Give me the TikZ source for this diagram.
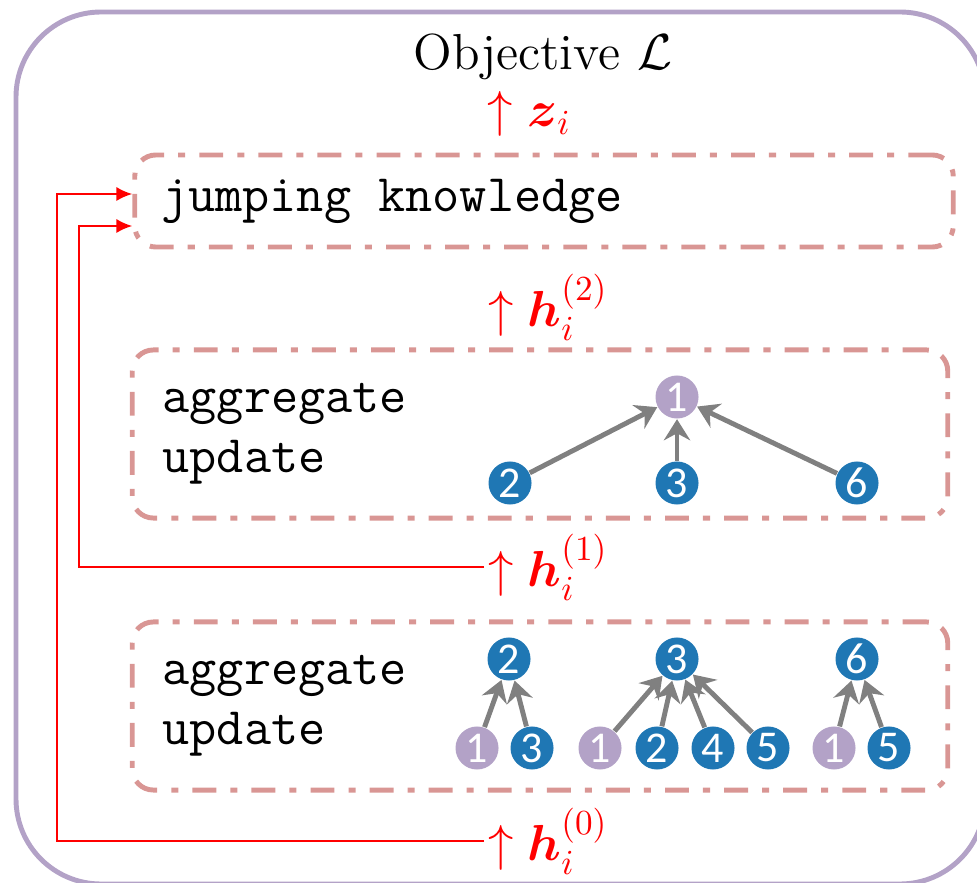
\documentclass[tikz,border=0pt]{standalone}
\usepackage{amsmath}
\usepackage{fontspec}
\newfontfamily\digitfont{Carlito}
\usetikzlibrary{arrows.meta,calc,positioning}
\definecolor{frame}{HTML}{B3A2C7}
\definecolor{stage}{HTML}{D99694}
\definecolor{nodeblue}{HTML}{1F77B4}
\definecolor{nodelilac}{HTML}{B3A2C7}
\definecolor{edgegray}{HTML}{808080}

\begin{document}
\begin{tikzpicture}[x=0.01cm,y=-0.01cm,font=\Large,
 stagebox/.style={draw=stage,line width=1.4pt,dash pattern=on 6.8pt off 4pt on 2pt off 4pt,rounded corners=6pt,inner sep=0pt},
 steptext/.style={anchor=west,inner sep=0pt,align=left,font=\fontsize{15}{17}\selectfont\ttfamily},
 flow/.style={anchor=west,text=red,inner sep=1pt},
 skip/.style={red,line width=0.6pt,-{Latex[length=4.5pt,width=4pt]}},
 nb/.style={circle,fill=nodeblue,text=white,minimum size=0.43cm,inner sep=0pt,font=\digitfont\fontsize{12.5}{14}\selectfont},
 rt/.style={nb,fill=nodelilac},
 msg/.style={draw=edgegray,line width=1.4pt,-{Stealth[length=6pt,width=7.5pt,inset=2pt]}}]
\clip (0,0) rectangle (977,883);
\draw[frame,line width=1.4pt,rounded corners=0.85cm] (16,12) rectangle (985,884);

% stages, top to bottom
\node[inner sep=0pt] (obj) at (543,57) {Objective $\mathcal{L}$};
\node[stagebox,minimum width=8.18cm,minimum height=0.92cm] (jk) at (544,201) {};
\node[stagebox,minimum width=8.15cm,minimum height=1.68cm] (upper) at (540,434) {};
\node[stagebox,minimum width=8.15cm,minimum height=1.68cm] (lower) at (540,706) {};
\node[steptext] (jktext) at ($(jk.west)+(28,0)$) {jumping knowledge};
\node[steptext] (uptext) at ($(upper.west)+(32,0)$) {aggregate\\update};
\node[steptext] (lowtext) at ($(lower.west)+(32,0)$) {aggregate\\update};

% representations passed upward
\node[flow,inner sep=0pt] (z) at (487,114) {$\uparrow\boldsymbol{z}_i$};
\node[flow] (h2) at (484,307) {$\uparrow\boldsymbol{h}_i^{(2)}$};
\node[flow] (h1) at (484,567) {$\uparrow\boldsymbol{h}_i^{(1)}$};
\node[flow] (h0) at (484,841) {$\uparrow\boldsymbol{h}_i^{(0)}$};

% skip links into jumping knowledge
\coordinate (jkin0) at ($(jk.west)+(0,-7)$);
\coordinate (jkin1) at ($(jk.west)+(0,25)$);
\draw[skip] (h0.west) -| ($(jkin0)+(-75,0)$) -- (jkin0);
\draw[skip] (h1.west) -| ($(jkin1)+(-53,0)$) -- (jkin1);

% second hop
\node[rt] (u1) at (677,397) {1};
\node[nb] (u2) at (510,483) {2};
\node[nb] (u3) at (677,483) {3};
\node[nb] (u6) at (857,483) {6};
\foreach \src in {u2,u3,u6}
 \draw[msg] (\src) -- (u1);

% first hop
\foreach \nm/\xx/\yy/\kind/\lab in {a/509/659/nb/2, a1/477/748/rt/1, a3/532/748/nb/3,
 b/677/659/nb/3, b1/600/748/rt/1, b2/657/748/nb/2, b4/713/748/nb/4, b5/768/748/nb/5,
 c/857/659/nb/6, c1/834/748/rt/1, c5/889/748/nb/5}
 \node[\kind] (\nm) at (\xx,\yy) {\lab};
\foreach \src/\dst in {a1/a,a3/a,b1/b,b2/b,b4/b,b5/b,c1/c,c5/c}
 \draw[msg] (\src) -- (\dst);
\end{tikzpicture}
\end{document}
